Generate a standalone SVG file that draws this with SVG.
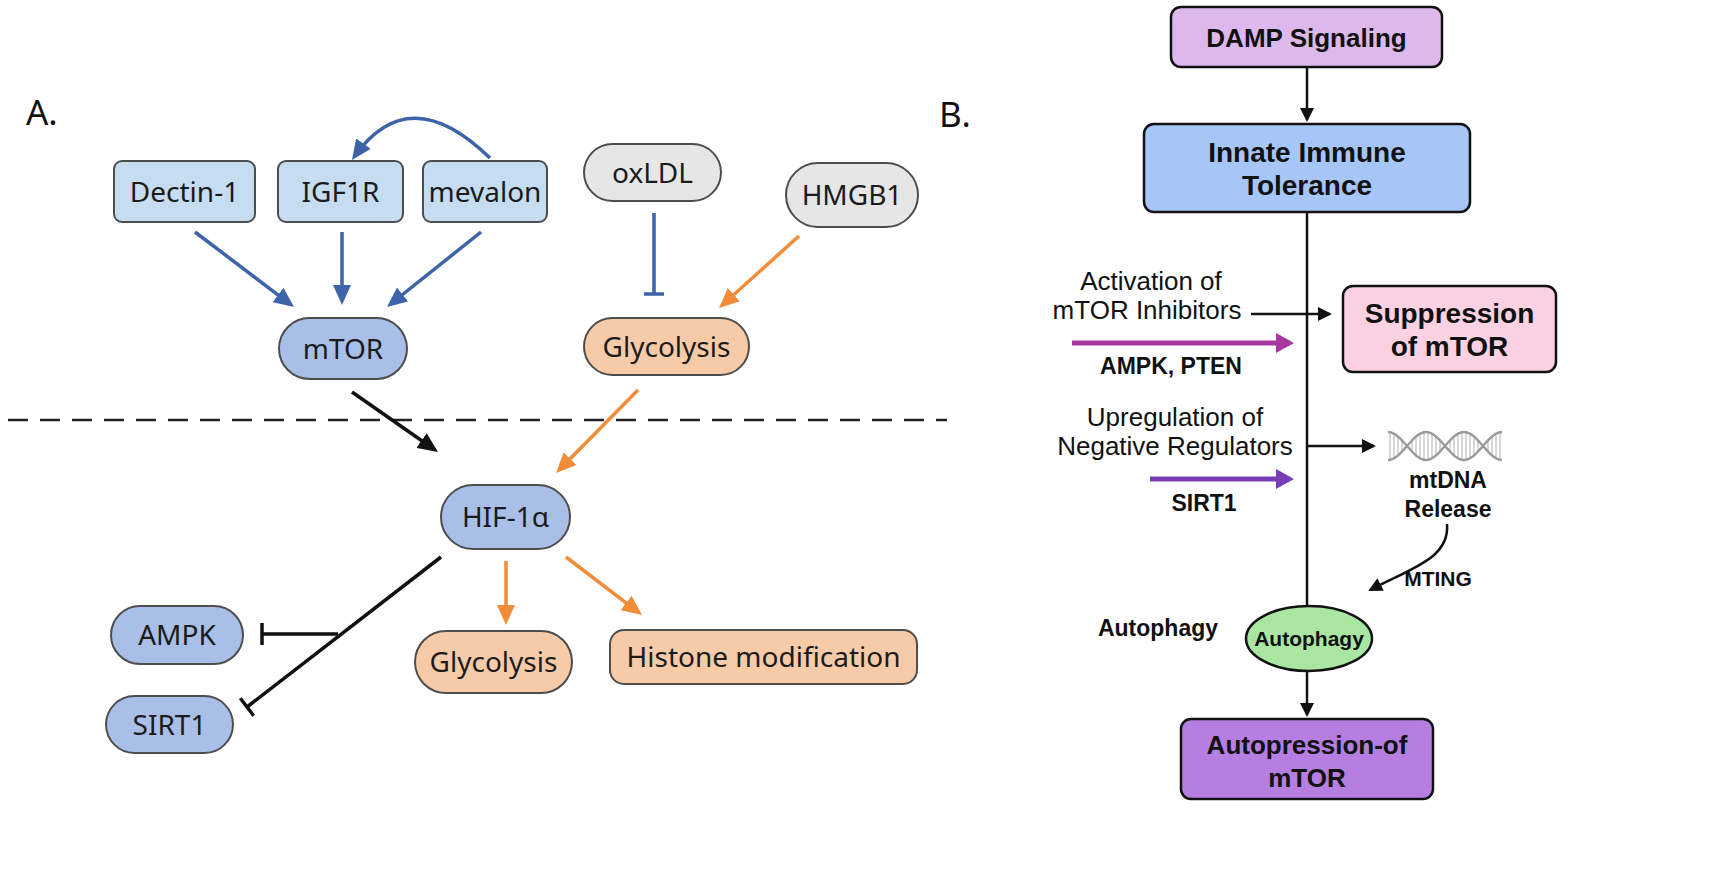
<svg xmlns="http://www.w3.org/2000/svg" width="1713" height="882" viewBox="0 0 1713 882">
<style>
.ta{font-family:"Noto Sans","Open Sans","Liberation Sans",sans-serif;font-size:28px;fill:#1b1b1b;text-anchor:middle}
.tb{font-family:"Liberation Sans",Arial,sans-serif;fill:#111;text-anchor:middle}
.bold{font-weight:bold}
.lbox{fill:#c6dcf0;stroke:#4d4d4d;stroke-width:2}
.pill{fill:#a9bfe8;stroke:#4d4d4d;stroke-width:2}
.gray{fill:#e6e6e6;stroke:#4d4d4d;stroke-width:2}
.peach{fill:#f7cba8;stroke:#4d4d4d;stroke-width:2}
.bbox{stroke:#111;stroke-width:2.5}
.blue{fill:none;stroke:#3d64a8;stroke-width:3.5}
.orange{fill:none;stroke:#f28c38;stroke-width:3.5}
.blk{fill:none;stroke:#111;stroke-width:3.5}
.blkb{fill:none;stroke:#111;stroke-width:2.5}
</style>
<defs>
<marker id="mBlue" markerUnits="userSpaceOnUse" viewBox="0 0 20 18" markerWidth="20" markerHeight="18" refX="16" refY="9" orient="auto"><path d="M0,0 L20,9 L0,18 z" fill="#3d64a8"/></marker>
<marker id="mOrange" markerUnits="userSpaceOnUse" viewBox="0 0 20 18" markerWidth="20" markerHeight="18" refX="16" refY="9" orient="auto"><path d="M0,0 L20,9 L0,18 z" fill="#f28c38"/></marker>
<marker id="mBlack" markerUnits="userSpaceOnUse" viewBox="0 0 20 18" markerWidth="20" markerHeight="18" refX="16" refY="9" orient="auto"><path d="M0,0 L20,9 L0,18 z" fill="#111"/></marker>
<marker id="mSmall" markerUnits="userSpaceOnUse" viewBox="0 0 14 14" markerWidth="14" markerHeight="14" refX="12" refY="7" orient="auto"><path d="M0,0 L14,7 L0,14 z" fill="#111"/></marker>
<marker id="mMag" markerUnits="userSpaceOnUse" viewBox="0 0 18 20" markerWidth="18" markerHeight="20" refX="14" refY="10" orient="auto"><path d="M0,0 L18,10 L0,20 z" fill="#a8389f"/></marker>
<marker id="mPur" markerUnits="userSpaceOnUse" viewBox="0 0 18 20" markerWidth="18" markerHeight="20" refX="14" refY="10" orient="auto"><path d="M0,0 L18,10 L0,20 z" fill="#7a3db8"/></marker>
</defs>
<rect width="1713" height="882" fill="#ffffff"/>

<text x="26" y="125" style="font-family:'Noto Sans','Liberation Sans',sans-serif;font-size:35px;fill:#111">A.</text>
<text x="939" y="127" style="font-family:'Noto Sans','Liberation Sans',sans-serif;font-size:35px;fill:#111">B.</text>

<line x1="8" y1="420" x2="947" y2="420" stroke="#222" stroke-width="2.5" stroke-dasharray="20 12"/>

<g id="connectors">
  <path class="blue" d="M195,232 L290.8,304.6" marker-end="url(#mBlue)"/>
  <path class="blue" d="M342,232 L342,301" marker-end="url(#mBlue)"/>
  <path class="blue" d="M481,232 L390.1,304.5" marker-end="url(#mBlue)"/>
  <path class="blue" d="M490,158 Q409,79 354.3,156.7" marker-end="url(#mBlue)"/>
  <path class="blue" d="M654,213 L654,294 M644,294 L664,294"/>
  <path class="orange" d="M799,236 L722,305.3" marker-end="url(#mOrange)"/>
  <path class="orange" d="M638,390 L558.8,470.2" marker-end="url(#mOrange)"/>
  <path class="orange" d="M506,561 L506,621" marker-end="url(#mOrange)"/>
  <path class="orange" d="M566,557 L638.8,612.6" marker-end="url(#mOrange)"/>
  <path class="blk" d="M352,392 L434.7,449.7" marker-end="url(#mBlack)"/>
  <path class="blk" d="M441,557 L247,707 M240.3,698.3 L253.7,715.7"/>
  <path class="blk" d="M338,634 L262,634 M262,623 L262,645"/>

  <path class="blkb" d="M1307,67 L1307,120" marker-end="url(#mSmall)"/>
  <path class="blkb" d="M1307,212 L1307,606"/>
  <path class="blkb" d="M1251,314 L1330,314" marker-end="url(#mSmall)"/>
  <path class="blkb" d="M1307,446 L1374,446" marker-end="url(#mSmall)"/>
  <path class="blkb" d="M1307,671 L1307,715" marker-end="url(#mSmall)"/>
  <path class="blkb" d="M1447,524 C1450,558 1412,568 1370,590" marker-end="url(#mSmall)"/>
  <path d="M1072,343 L1290,343" stroke="#a8389f" stroke-width="5" fill="none" marker-end="url(#mMag)"/>
  <path d="M1150,479 L1290,479" stroke="#7a3db8" stroke-width="5" fill="none" marker-end="url(#mPur)"/>
</g>

<g id="dectin1"><rect class="lbox" x="114" y="161" width="141" height="61" rx="8"/><text class="ta" x="184.5" y="201.5">Dectin-1</text></g>
<g id="igf1r"><rect class="lbox" x="278" y="161" width="125" height="61" rx="8"/><text class="ta" x="340.5" y="201.5">IGF1R</text></g>
<g id="mevalon"><rect class="lbox" x="423" y="161" width="124" height="61" rx="8"/><text class="ta" x="485" y="201.5">mevalon</text></g>
<g id="oxldl"><rect class="gray" x="584" y="144" width="137" height="57" rx="28.5"/><text class="ta" x="652.5" y="182.5">oxLDL</text></g>
<g id="hmgb1"><rect class="gray" x="786" y="163" width="132" height="64" rx="32"/><text class="ta" x="852" y="205">HMGB1</text></g>
<g id="mtor"><rect class="pill" x="279" y="318" width="128" height="61" rx="30.5"/><text class="ta" x="343" y="358.5">mTOR</text></g>
<g id="glycolysis-top"><rect class="peach" x="584" y="318" width="165" height="57" rx="28.5"/><text class="ta" x="666.5" y="356.5">Glycolysis</text></g>
<g id="hif1a"><rect class="pill" x="441" y="485" width="129" height="64" rx="32"/><text class="ta" x="505.5" y="527">HIF-1α</text></g>
<g id="glycolysis-bottom"><rect class="peach" x="415" y="631" width="157" height="62" rx="31"/><text class="ta" x="493.5" y="672">Glycolysis</text></g>
<g id="histone"><rect class="peach" x="610" y="630" width="307" height="54" rx="14"/><text class="ta" x="763.5" y="667">Histone modification</text></g>
<g id="ampk"><rect class="pill" x="111" y="606" width="132" height="58" rx="29"/><text class="ta" x="177" y="645">AMPK</text></g>
<g id="sirt1"><rect class="pill" x="106" y="696" width="127" height="57" rx="28.5"/><text class="ta" x="169.5" y="734.5">SIRT1</text></g>

<g id="damp"><rect class="bbox" fill="#dcb8ec" x="1171" y="7" width="271" height="60" rx="10"/><text class="tb bold" x="1306.5" y="47" font-size="26">DAMP Signaling</text></g>
<g id="innate"><rect class="bbox" fill="#a5c6f7" x="1144" y="124" width="326" height="88" rx="10"/><text class="tb bold" x="1307" y="162" font-size="28">Innate Immune</text><text class="tb bold" x="1307" y="195" font-size="28">Tolerance</text></g>
<g id="suppression"><rect class="bbox" fill="#fcd2e2" x="1343" y="286" width="213" height="86" rx="10"/><text class="tb bold" x="1449.5" y="323" font-size="28">Suppression</text><text class="tb bold" x="1449.5" y="356" font-size="28">of mTOR</text></g>
<g id="autophagy"><ellipse class="bbox" fill="#a8e6a1" cx="1309" cy="638.5" rx="63" ry="32.5"/><text class="tb bold" x="1309" y="646" font-size="21">Autophagy</text></g>
<g id="autopression"><rect class="bbox" fill="#b57ee0" x="1181" y="719" width="252" height="80" rx="10"/><text class="tb bold" x="1307" y="754" font-size="26">Autopression-of</text><text class="tb bold" x="1307" y="787" font-size="26">mTOR</text></g>

<g id="mtdna">
  <path d="M1390,432.2V459.8M1394,433.7V458.3M1398,436.5V455.5M1402,440.4V451.6M1412,440.4V451.6M1416,436.5V455.5M1420,433.7V458.3M1424,432.2V459.8M1428,432.2V459.8M1432,433.7V458.3M1436,436.5V455.5M1440,440.4V451.6M1450,440.4V451.6M1454,436.5V455.5M1458,433.7V458.3M1462,432.2V459.8M1466,432.2V459.8M1470,433.7V458.3M1474,436.5V455.5M1478,440.4V451.6M1488,440.4V451.6M1492,436.5V455.5M1496,433.7V458.3M1500,432.2V459.8" stroke="#c4c4c4" stroke-width="1.3" fill="none"/>
  <path d="M1388,432 C1401.7,432 1412.3,460 1426,460 C1439.7,460 1450.3,432 1464,432 C1477.7,432 1488.3,460 1502,460" stroke="#9a9a9a" stroke-width="2.5" fill="none"/>
  <path d="M1388,460 C1401.7,460 1412.3,432 1426,432 C1439.7,432 1450.3,460 1464,460 C1477.7,460 1488.3,432 1502,432" stroke="#9a9a9a" stroke-width="2.5" fill="none"/>
  <text class="tb bold" x="1448" y="488" font-size="23">mtDNA</text>
  <text class="tb bold" x="1448" y="517" font-size="23">Release</text>
</g>

<g id="labels">
  <text class="tb" x="1151" y="290" font-size="26">Activation of</text>
  <text class="tb" x="1147" y="319" font-size="26">mTOR Inhibitors</text>
  <text class="tb bold" x="1171" y="374" font-size="23">AMPK, PTEN</text>
  <text class="tb" x="1175" y="426" font-size="26">Upregulation of</text>
  <text class="tb" x="1175" y="455" font-size="26">Negative Regulators</text>
  <text class="tb bold" x="1204" y="511" font-size="23">SIRT1</text>
  <text class="tb bold" x="1438" y="586" font-size="21">MTING</text>
  <text class="tb bold" x="1158" y="636" font-size="23">Autophagy</text>
</g>
</svg>
